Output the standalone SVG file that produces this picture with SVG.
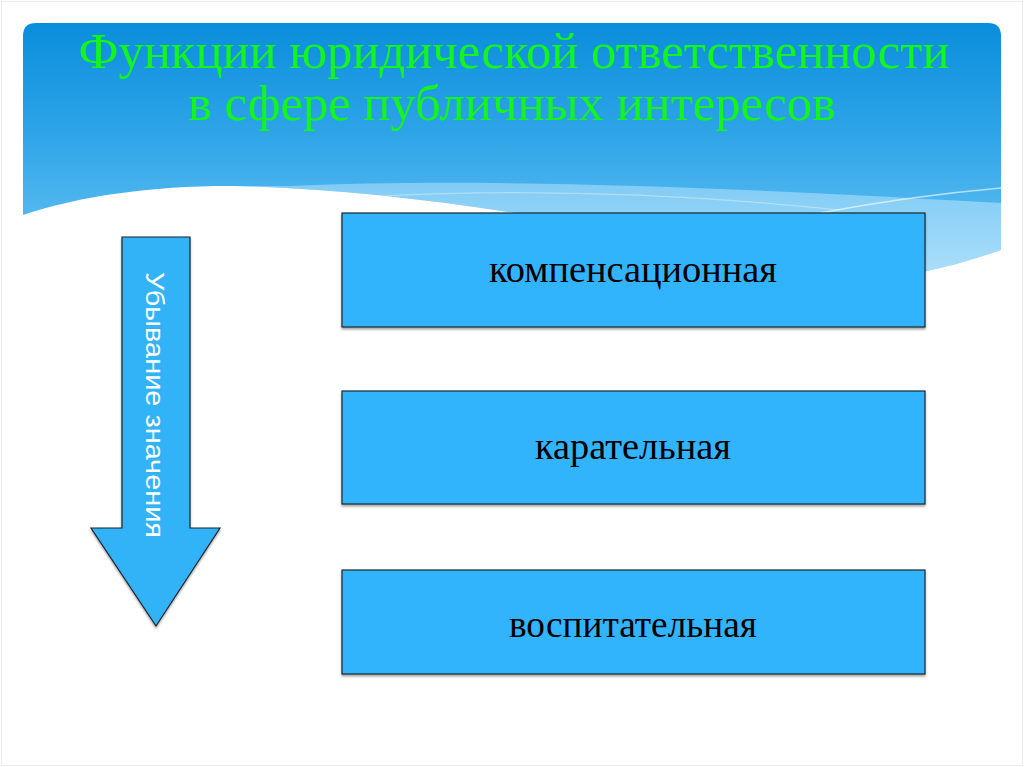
<svg xmlns="http://www.w3.org/2000/svg" width="1024" height="767" viewBox="0 0 1024 767">
  <defs>
    <linearGradient id="sky" x1="0" y1="23" x2="0" y2="250" gradientUnits="userSpaceOnUse">
      <stop offset="0" stop-color="#0a8edc"/>
      <stop offset="0.5" stop-color="#2fa5e8"/>
      <stop offset="1" stop-color="#62c0f2"/>
    </linearGradient>
    <linearGradient id="band" x1="0" y1="180" x2="0" y2="275" gradientUnits="userSpaceOnUse">
      <stop offset="0" stop-color="#7fcbf5"/>
      <stop offset="1" stop-color="#acdefa"/>
    </linearGradient>
    <filter id="sh" x="-5%" y="-5%" width="110%" height="115%">
      <feDropShadow dx="0" dy="2" stdDeviation="1" flood-color="#000" flood-opacity="0.35"/>
    </filter>
  </defs>
  <style>
    .title { font-family: "Liberation Serif", "Times New Roman", serif; font-size: 50px; fill: #14f51e; text-anchor: middle; }
    .box { fill: #32b4fc; stroke: #1a2530; stroke-width: 1.2; }
    .label { font-family: "Liberation Serif", "Times New Roman", serif; font-size: 38px; fill: #000; text-anchor: middle; }
    .arrow { fill: #33b3f7; stroke: #1a2530; stroke-width: 1.2; }
    .vlabel { font-family: "Liberation Sans", Arial, sans-serif; font-size: 25px; fill: #ffffff; text-anchor: middle; }
  </style>

  <rect x="0" y="0" width="1024" height="767" fill="#ffffff"/>
  <rect x="1.5" y="1.5" width="1021" height="764" fill="none" stroke="#ececec" stroke-width="1"/>

  <g id="background">
    <path d="M23,36 Q23,23 36,23 H988 Q1001,23 1001,36 V290 H23 Z" fill="url(#sky)"/>
    <path d="M290,186 C520,176 800,192 1001,203 V250 C960,264 935,270 905,275 C700,250 460,190 230,186 Z" fill="url(#band)"/>
    <path d="M23,215 C80,196 150,186 230,186 C460,190 700,250 905,275 C935,270 960,264 1001,250 V300 H23 Z" fill="#ffffff"/>
    <path d="M820,213 Q910,196 1001,188" fill="none" stroke="#ffffff" stroke-opacity="0.6" stroke-width="1.5"/>
    <path d="M380,196 Q600,185 840,210" fill="none" stroke="#ffffff" stroke-opacity="0.35" stroke-width="1.2"/>
  </g>

  <g id="title">
    <text class="title" x="514" y="68" textLength="871" lengthAdjust="spacingAndGlyphs">Функции юридической ответственности</text>
    <text class="title" x="512" y="120" textLength="648" lengthAdjust="spacingAndGlyphs">в сфере публичных интересов</text>
  </g>

  <g id="arrow">
    <path class="arrow" filter="url(#sh)" d="M122,237 H190 V528 H220 L156,626 L91,528 H122 Z"/>
    <text class="vlabel" transform="translate(146,405) rotate(90)" x="0" y="0" textLength="266" lengthAdjust="spacingAndGlyphs">Убывание значения</text>
  </g>

  <g id="node-kompensatsionnaya">
    <rect class="box" filter="url(#sh)" x="342" y="213" width="583" height="114"/>
    <text class="label" x="633" y="282" textLength="288" lengthAdjust="spacingAndGlyphs">компенсационная</text>
  </g>

  <g id="node-karatelnaya">
    <rect class="box" filter="url(#sh)" x="342" y="391" width="583" height="113"/>
    <text class="label" x="633" y="459" textLength="196" lengthAdjust="spacingAndGlyphs">карательная</text>
  </g>

  <g id="node-vospitatelnaya">
    <rect class="box" filter="url(#sh)" x="342" y="570" width="583" height="104"/>
    <text class="label" x="633" y="637" textLength="248" lengthAdjust="spacingAndGlyphs">воспитательная</text>
  </g>

  <g id="connectors"></g>
</svg>
